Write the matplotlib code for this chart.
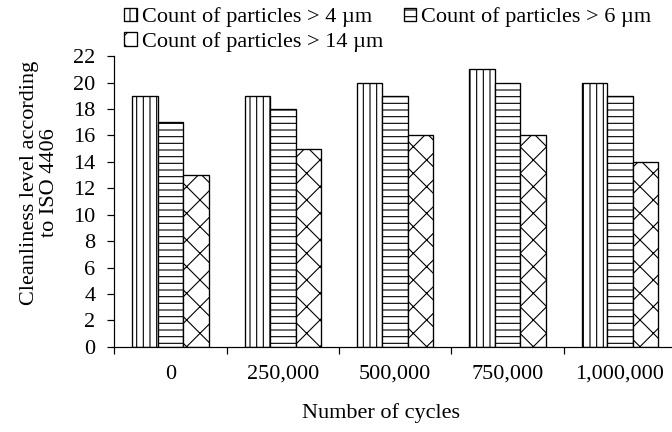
import numpy as np
import matplotlib.pyplot as plt
from matplotlib.ticker import FixedLocator

cycles = ['0', '250,000', '500,000', '750,000', '1,000,000']
count_4um = [19, 19, 20, 21, 20]
count_6um = [17, 18, 19, 20, 19]
count_14um = [13, 15, 16, 16, 14]

series = [
    ('Count of particles > 4 µm', count_4um, '||'),
    ('Count of particles > 6 µm', count_6um, '--'),
    ('Count of particles > 14 µm', count_14um, 'x'),
]

plt.rcParams['font.family'] = ['Liberation Serif', 'DejaVu Serif']
plt.rcParams['font.size'] = 20
plt.rcParams['hatch.linewidth'] = 1.0
plt.rcParams['hatch.color'] = 'black'

fig = plt.figure(figsize=(8.4, 5.4), dpi=80, facecolor='white')
ax = fig.add_axes([0.170, 0.197, 0.836, 0.673])

x = np.arange(len(cycles))
w = 0.227
bars = []
for i, (name, vals, hatch) in enumerate(series):
    b = ax.bar(x + (i - 1) * w, vals, w, color='white', edgecolor='black',
               linewidth=1.2, hatch=hatch, label=name)
    bars.append(b)

ax.set_xlim(-0.5, len(cycles) - 0.5)
ax.set_ylim(0, 22)
ax.set_yticks(range(0, 23, 2))
ax.set_xticks(x)
ax.set_xticklabels(cycles)
ax.xaxis.set_minor_locator(FixedLocator(np.arange(-0.5, len(cycles), 1.0)))

ax.spines['top'].set_visible(False)
ax.spines['right'].set_visible(False)
ax.spines['left'].set_linewidth(1.1)
ax.spines['bottom'].set_linewidth(1.1)
ax.tick_params(axis='x', which='major', length=0, pad=16)
ax.tick_params(axis='x', which='minor', length=6, width=1.1, direction='out')
ax.tick_params(axis='y', length=6, width=1.1, direction='out', pad=11)

ax.set_xlabel('Number of cycles')
ax.xaxis.set_label_coords(0.475, -0.195)
ax.set_ylabel('Cleanliness level according\nto ISO 4406', linespacing=1.05)
ax.yaxis.set_label_coords(-0.098, 0.565)

# two entries on the first row, the third one below
order = [0, 2, 1]
fig.legend([bars[k] for k in order], [series[k][0] for k in order],
           loc='upper left', bbox_to_anchor=(0.172, 1.003), ncol=2,
           frameon=False, handlelength=0.55, handleheight=0.55,
           handletextpad=0.25, columnspacing=0.9, labelspacing=0.2,
           borderaxespad=0)

fig.savefig('out.png', dpi=80, facecolor='white')
